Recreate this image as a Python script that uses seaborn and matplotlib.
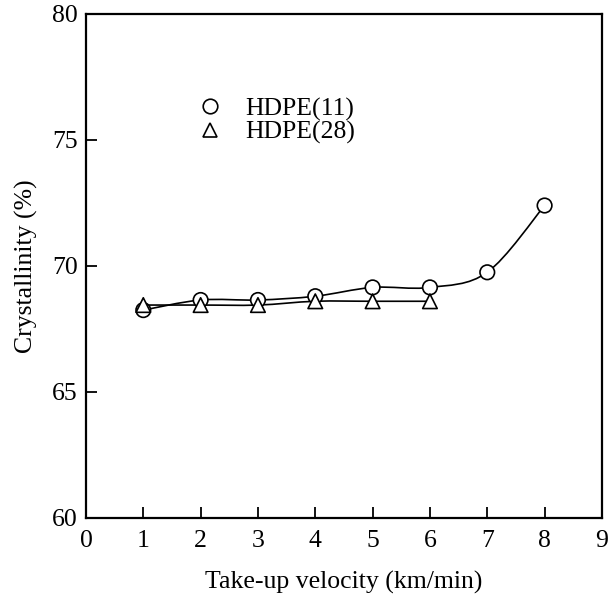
import numpy as np
import pandas as pd
import matplotlib
matplotlib.use("Agg")
import matplotlib.pyplot as plt
from matplotlib.path import Path
from matplotlib.patches import PathPatch
import seaborn as sns

# Data
velocity_11 = [1, 2, 3, 4, 5, 6, 7, 8]
cryst_11 = [68.25, 68.65, 68.65, 68.8, 69.15, 69.15, 69.75, 72.4]
velocity_28 = [1, 2, 3, 4, 5, 6]
cryst_28 = [68.45, 68.45, 68.45, 68.6, 68.6, 68.6]
series_names = ["HDPE(11)", "HDPE(28)"]
x_ticks = list(range(0, 10))
y_ticks = [60, 65, 70, 75, 80]

sns.set_theme(style="white")
plt.rcParams["font.family"] = ["Liberation Serif", "DejaVu Serif"]
plt.rcParams["text.color"] = "black"
plt.rcParams["axes.labelcolor"] = "black"

fig = plt.figure(figsize=(6.08, 5.98), dpi=100)
ax = fig.add_axes([0.1414, 0.1338, 0.8486, 0.8428])

df = pd.concat([
    pd.DataFrame({"v": velocity_11, "c": cryst_11, "s": series_names[0]}),
    pd.DataFrame({"v": velocity_28, "c": cryst_28, "s": series_names[1]}),
])


def smooth_path(xs, ys):
    # Catmull-Rom style cubic Bezier through the data points (drawing only)
    pts = np.column_stack([xs, ys]).astype(float)
    verts = [tuple(pts[0])]
    codes = [Path.MOVETO]
    n = len(pts)
    for i in range(n - 1):
        p0 = pts[i - 1] if i > 0 else pts[i]
        p1 = pts[i]
        p2 = pts[i + 1]
        p3 = pts[i + 2] if i + 2 < n else pts[i + 1]
        c1 = p1 + (p2 - p0) / 6.0
        c2 = p2 - (p3 - p1) / 6.0
        verts += [tuple(c1), tuple(c2), tuple(p2)]
        codes += [Path.CURVE4] * 3
    return Path(verts, codes)


for xs, ys in [(velocity_11, cryst_11), (velocity_28, cryst_28)]:
    ax.add_patch(PathPatch(smooth_path(xs, ys), facecolor="none",
                           edgecolor="black", lw=1.2, zorder=2))

sns.scatterplot(data=df, x="v", y="c", hue="s", style="s",
                markers={series_names[0]: "o", series_names[1]: "^"},
                palette={series_names[0]: "white", series_names[1]: "white"},
                edgecolor="black", linewidth=1.2, s=110, ax=ax, zorder=3,
                legend=True)

ax.set_xlim(0, 9)
ax.set_ylim(60, 80)
ax.set_xticks(x_ticks)
ax.set_yticks(y_ticks)
ax.tick_params(axis="both", which="major", direction="in", length=8,
               width=1.3, labelsize=18.5, colors="black",
               top=False, right=False, left=True, bottom=True)
ax.tick_params(axis="x", pad=9)
ax.tick_params(axis="y", pad=6)
for sp in ax.spines.values():
    sp.set_linewidth(1.6)
    sp.set_color("black")

ax.set_xlabel("Take-up velocity (km/min)", fontsize=18.5, labelpad=13, color="black")
ax.set_ylabel("Crystallinity (%)", fontsize=18.5, labelpad=10, color="black")

handles, labels = ax.get_legend_handles_labels()
for h in handles:
    if hasattr(h, "set_markeredgecolor"):
        h.set_markeredgecolor("black")
        h.set_markerfacecolor("white")
        h.set_markeredgewidth(1.2)
    else:
        h.set_edgecolor("black")
        h.set_facecolor("white")
leg = ax.legend(handles, labels, loc="upper left",
                bbox_to_anchor=(0.185, 0.86), frameon=False, fontsize=18.5,
                borderpad=0, handletextpad=0.8, labelspacing=0.0,
                markerscale=1.0, handlelength=1.2)
for t in leg.get_texts():
    t.set_color("black")

fig.savefig("out.png", dpi=100)
